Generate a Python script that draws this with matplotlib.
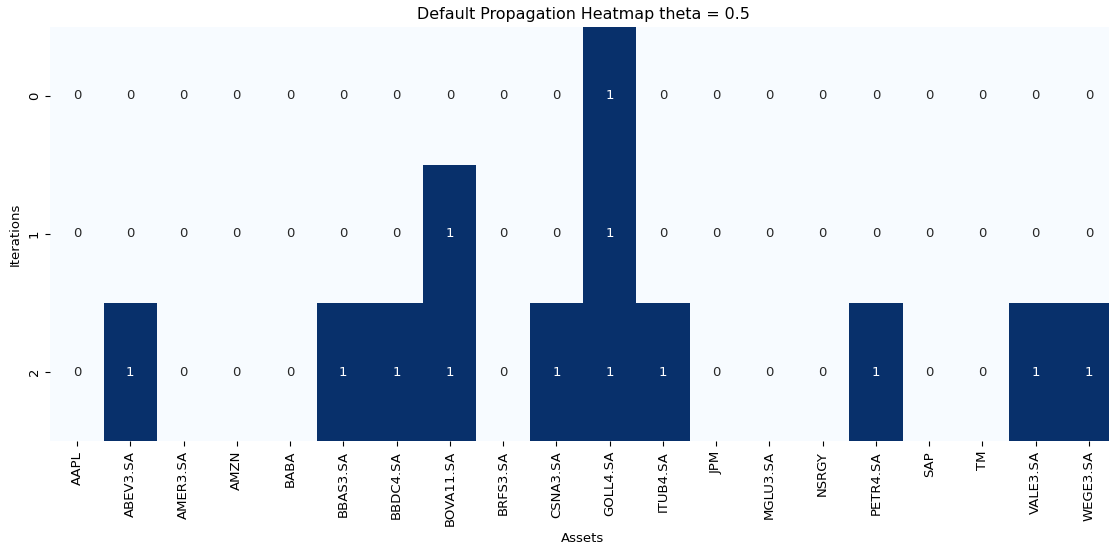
import numpy as np
import matplotlib
matplotlib.use("Agg")
import matplotlib.pyplot as plt
import seaborn as sns
import pandas as pd

assets = ['AAPL', 'ABEV3.SA', 'AMER3.SA', 'AMZN', 'BABA', 'BBAS3.SA', 'BBDC4.SA',
          'BOVA11.SA', 'BRFS3.SA', 'CSNA3.SA', 'GOLL4.SA', 'ITUB4.SA', 'JPM',
          'MGLU3.SA', 'NSRGY', 'PETR4.SA', 'SAP', 'TM', 'VALE3.SA', 'WEGE3.SA']
iterations = [0, 1, 2]

#default flags per iteration
iter0 = [0, 0, 0, 0, 0, 0, 0, 0, 0, 0, 1, 0, 0, 0, 0, 0, 0, 0, 0, 0]
iter1 = [0, 0, 0, 0, 0, 0, 0, 1, 0, 0, 1, 0, 0, 0, 0, 0, 0, 0, 0, 0]
iter2 = [0, 1, 0, 0, 0, 1, 1, 1, 0, 1, 1, 1, 0, 0, 0, 1, 0, 0, 1, 1]

theta = 0.5

df = pd.DataFrame([iter0, iter1, iter2], index=iterations, columns=assets)

plt.rcParams.update({'font.size': 9.5})

fig, ax = plt.subplots(figsize=(11.09, 5.48), dpi=100)
sns.heatmap(df, cmap="Blues", annot=True, fmt="d", cbar=False, ax=ax,
            annot_kws={'size': 9.5})
ax.set_title("Default Propagation Heatmap theta = " + str(theta), fontsize=11.4)
ax.set_xlabel("Assets")
ax.set_ylabel("Iterations")

plt.subplots_adjust(left=0.0454, right=1.006, top=0.951, bottom=0.195)
plt.savefig("out.png")
